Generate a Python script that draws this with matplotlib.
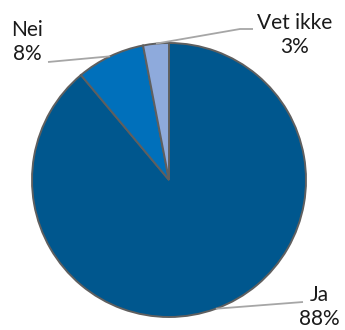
import numpy as np
import matplotlib
matplotlib.use("Agg")
import matplotlib.pyplot as plt

labels = ["Ja", "Nei", "Vet ikke"]
values = [88, 8, 3]
colors = ["#00578E", "#0070BB", "#8EAADC"]

W, H = 345, 330
CX, CY, R = 169, 180, 137  # pie centre and radius in pixels

plt.rcParams["font.family"] = ["Lato", "DejaVu Sans"]

fig = plt.figure(figsize=(W / 100, H / 100), dpi=100)
ax = fig.add_axes([0, 0, 1, 1])

wedges, _ = ax.pie(values, colors=colors, startangle=90, counterclock=False,
                   radius=1, center=(0, 0),
                   wedgeprops=dict(edgecolor="#5F5F5F", linewidth=1.4))

ax.set_xlim(-CX / R, (W - CX) / R)
ax.set_ylim(-(H - CY) / R, CY / R)
ax.set_aspect("auto")
ax.axis("off")


def px(x, y):
    # pixel position -> data coords
    return (x - CX) / R, (CY - y) / R


# label box centres and leader line ends, in pixels
label_pos = {"Ja": (319, 307), "Nei": (27, 42), "Vet ikke": (295, 35)}
leader_end = {"Ja": [(303, 302)], "Nei": [(48, 62)], "Vet ikke": [(240, 29), (253, 29)]}

for w, lab, v in zip(wedges, labels, values):
    mid = np.deg2rad((w.theta1 + w.theta2) / 2)
    pts = [(np.cos(mid), np.sin(mid))] + [px(*p) for p in leader_end[lab]]
    xs, ys = zip(*pts)
    ax.plot(xs, ys, color="#A6A6A6", lw=1.3, solid_capstyle="butt")
    tx, ty = px(*label_pos[lab])
    ax.text(tx, ty, f"{lab}\n{v}%", ha="center", va="center", fontsize=15,
            linespacing=1.2, color="#1A1A1A")

fig.savefig("out.png", dpi=100)
